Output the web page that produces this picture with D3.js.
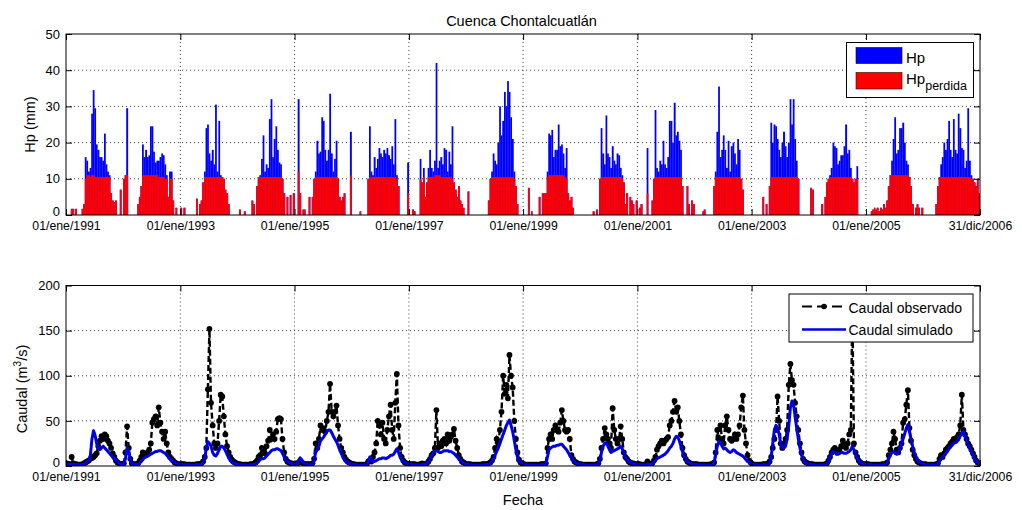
<!DOCTYPE html>
<html><head><meta charset="utf-8">
<script src="https://cdn.jsdelivr.net/npm/d3@7"></script>
<style>
body{margin:0;background:#fff;}
svg text{font-family:"Liberation Sans",Arial,Helvetica,sans-serif;fill:#000;}
</style></head><body>
<svg id="c" width="1022" height="510"></svg>
<script>
// ---- DATA (ten-day values, 36 per year) ----
const years = [1991,1992,1993,1994,1995,1996,1997,1998,1999,2000,2001,2002,2003,2004,2005,2006];

// Hp (mm)
const hp = [
0,0,0,1.7,1.7,0,1.7,0,0,0,1.7,3,16,15,12,13,28,34.5,29.5,19.5,18,16,16,15,22.5,14,12,11,6,4,3.5,4,0,0,7,0,
10,11,29.5,0,0,0,0,0,0,3,5,8,19.5,16,18,16,16.5,24.5,24.5,17.5,14.5,15,15,16,17,16.5,14,11,5,12,12,4,0,2,0,0,
2,0,2,0,0,0,0,0,0,0,4.5,0,3,4,9,12,24,25,17,15,18,14,30.5,12,26,11,10.5,10,7,6,3,0,0,0,0,0,
0,1.5,0,0,1,0,0,0,0,4,3,0,8,10.5,11,15.5,22,12,14,13,26.5,32,16,21,24.5,18,14.5,14,10,6,0,5,0,5.5,0,6,
0,0,32,6,0,1.5,1.5,0,0,5,0,5,10,12,20.5,17,17.5,27,26,18,15,18,33.5,17,12,15.5,20.5,10,5,4,5,6,0,0,0,23,
0,0,0,0,0,1,0,0,0,0,10,24.5,12,11,16,13,15.5,18.5,17,16,18,17,18.5,16.5,15.5,19,14,26.5,11,8,0,0,0,0,0,14.5,
0,0,1.5,1,0,0,0,15.5,9,13,5,9,13,18,13,12,15,42,13,15,16,14,18.5,18,12,17.5,14,24.5,9,7,5,8,4,3,2,0,
0,6.5,0,0,0,0,0,0,0,0,0,0,0,0,4,10,12,17,15,14,20,30,22,26,34,30,37,34,27,21,12,8,3,0,0,0,
0,0,0,7.5,0,1,0,0,0,0,5,0,6,6,6,12,22.5,22,23.5,16,18,18,25,19,19.5,17,13,18.5,6,4,5,2,0,0,0,0,
0,0,0,0,0,0,0,0,1,0,1.5,0,10,24,17,14,27.5,17,16,13,19,15,14,17,16.5,13,11,9,3,6,0,5,4,3,0,4,
0,2,3,0,0,0,18.5,0,0,4,10,29,13,12,15,14,20.5,14,13,16,26,26,20,31,22,23,20.5,18,8,0,0,8,3,0,4,3,
0,0,0,0,0,1,1.5,0,0,0,0,0,8,12,23,35.5,16,18,22,18,13,20.5,12,19,20,17,14,21,18,10,7,0,0,0,0,0,
0,0,0,0,0,0,0,5,0,3,0,8,25.5,20,25,24.5,21,18,16,20,23,19,16,20,32,25,32,21,15,10,0,0,0,0,0,0,
0,7.5,7,0,0,0,0,0,3,0,5,9,10,11,13,20,19,18.5,14,15,16.5,16.5,19,25,17,18,13,10,9,10,13.5,0,0,0,0,0,
0,0,0,1,1.5,2,1.5,2,1,2,1.5,3,2,4,8,11,15,21,27,17,18,24,24,25.5,20,15,14,10.5,8,3,0,2,3,2,0,2,
0,0,0,0,0,0,0,0,3,8,10.5,14,16,20,18,21,26,18,16,26.5,18,17,28,24,18.5,18,13,15,29.5,15,11,10,9,8,10,6
];

// Hp perdida (mm)
const hpLoss = [
0,0,0,1.7,1.7,0,1.7,0,0,0,1.7,3,10,11,11,10.5,11,11,10.5,10.5,10.5,10.5,10.5,10.5,10.5,10.5,10.5,10.5,6,4,3.5,4,0,0,7,0,
10,11,11,0,0,0,0,0,0,3,5,8,11,11,11,11,11,11,11,11,11,11,10.5,10.5,10.5,10.5,10,10,5,10,10,4,0,2,0,0,
2,0,2,0,0,0,0,0,0,0,4.5,0,3,4,9,10.5,10.5,10.5,10.5,10.5,10.5,10.5,10.5,10.5,10.5,10.5,10.5,10,7,6,3,0,0,0,0,0,
0,1.5,0,0,1,0,0,0,0,4,3,0,8,10.5,10.5,10.5,10.5,10.5,10.5,10.5,10.5,10.5,10.5,10.5,10.5,10.5,10.5,10.5,10,6,0,5,0,5.5,0,6,
0,0,12,6,0,1.5,1.5,0,0,5,0,5,10,10.5,10.5,10.5,10.5,10.5,10.5,10.5,10.5,10.5,10.5,10.5,10.5,10.5,10.5,10,5,4,5,6,0,0,0,11,
0,0,0,0,0,1,0,0,0,0,10,10.5,10.5,10.5,10.5,10.5,10.5,10.5,10.5,10.5,10.5,10.5,10.5,10.5,10.5,10.5,10.5,10.5,10,8,0,0,0,0,0,6,
0,0,1.5,1,0,0,0,10,9,10.5,5,9,10.5,10.5,10.5,10.5,11,11,11,11,10.5,10.5,10.5,10.5,10.5,10.5,10.5,10,9,7,5,8,4,3,2,0,
0,6.5,0,0,0,0,0,0,0,0,0,0,0,0,4,10,10.5,10.5,10.5,10.5,10.5,10.5,10.5,10.5,10.5,10.5,10.5,10.5,10.5,10.5,10,8,3,0,0,0,
0,0,0,7.5,0,1,0,0,0,0,5,0,6,6,6,10.5,11,11,11,11,11,11,11,11,11,11,10.5,10,6,4,5,2,0,0,0,0,
0,0,0,0,0,0,0,0,1,0,1.5,0,10,10.5,10.5,10.5,10.5,10.5,10.5,10.5,10.5,10.5,10.5,10.5,10.5,10.5,10,9,3,6,0,5,4,3,0,4,
0,2,3,0,0,0,6,0,0,4,10,10.5,10.5,10.5,10.5,10.5,10.5,10.5,10.5,10.5,10.5,10.5,10.5,10.5,10.5,10.5,10.5,10.5,8,0,0,8,3,0,4,3,
0,0,0,0,0,1,1.5,0,0,0,0,0,8,10.5,10.5,10.5,10.5,10.5,10.5,10.5,10.5,10.5,10.5,10.5,10.5,10.5,10.5,10.5,10.5,10,7,0,0,0,0,0,
0,0,0,0,0,0,0,5,0,3,0,8,10.5,10.5,10.5,10.5,10.5,10.5,10.5,10.5,10.5,10.5,10.5,10.5,10.5,10.5,10.5,10.5,10.5,10,0,0,0,0,0,0,
0,7.5,7,0,0,0,0,0,3,0,5,9,10,10.5,10.5,10.5,10.5,10.5,10.5,10.5,10.5,10.5,10.5,10.5,10.5,10.5,10.5,10,9,10,10,0,0,0,0,0,
0,0,0,1,1.5,2,1.5,2,1,2,1.5,3,2,4,8,11,11,11,11,11,11,11,11,11,11,11,11,10.5,8,3,0,2,3,2,0,2,
0,0,0,0,0,0,0,0,3,8,10.5,10.5,10.5,10.5,10.5,10.5,10.5,10.5,10.5,10.5,10.5,10.5,10.5,10.5,10.5,10.5,10.5,10.5,10.5,10.5,10,10,9,8,10,6
];

// Caudal observado (m3/s)
const qObs = [
3,2,2,10,3,2,2,1.5,1.5,1.5,2,3,4,5,6,8,9,10,12,14,22,28,33,30,35,33,28,25,20,14,10,6,4,3,2,2,
3,15,44,20,8,3,2,2,2,3,6,10,15,14,12,15,18,25,48,52,55,45,65,48,38,30,38,25,15,10,8,6,4,3,2,2,
2,2,2,1.5,1.5,1.5,1.5,1.5,1.5,1.5,2,2,2,3,5,10,20,85,152,70,45,25,20,25,50,79,77,55,35,22,15,10,7,5,4,3,
2,2,1.5,1.5,1.5,1.5,1.5,1.5,2,2,3,4,6,10,12,20,18,14,22,28,40,30,35,30,38,52,53,52,30,15,8,5,4,3,3,2,
2,2,4,5,4,3,2,2,2,2,2,3,8,25,20,30,45,40,42,38,50,60,91,60,55,60,67,45,30,20,15,10,7,5,4,3,
2,2,1.5,1.5,1.5,1.5,1.5,1.5,1.5,2,5,6,5,10,15,25,50,45,35,48,30,25,40,55,68,40,30,70,102,45,20,10,6,4,3,2,
2,2,2,2,1.5,1.5,1.5,2,3,2,2,3,5,8,12,14,20,62,20,25,22,28,30,25,35,28,32,35,41,28,20,12,8,5,4,3,
2,2,2,1.5,1.5,1.5,1.5,1.5,1.5,1.5,2,2,2,2,3,4,6,10,20,30,25,40,60,100,80,90,75,123,100,87,50,30,15,7,4,3,
2,1.5,1.5,1.5,1.5,1.5,1.5,1.5,1.5,1.5,1.5,2,2,2,3,20,30,35,30,40,45,40,38,48,62,50,40,38,40,30,12,8,5,4,3,2,
2,1.5,1.5,1.5,1.5,1.5,1.5,1.5,1.5,1.5,2,3,8,20,30,42,35,30,25,20,64,40,30,25,30,44,30,15,10,8,5,4,3,3,2,2,
2,2,1.5,1.5,1.5,2,5,3,2,3,6,10,18,22,25,28,25,28,30,32,45,50,60,72,60,65,50,35,20,12,8,5,4,3,2,2,
2,2,1.5,1.5,1.5,1.5,1.5,1.5,1.5,1.5,2,2,4,15,40,30,45,30,25,45,55,40,30,28,30,35,30,35,45,65,78,40,25,12,6,4,
2,1.5,1.5,1.5,1.5,1.5,1.5,2,2,2,3,5,10,20,30,40,77,50,25,20,25,30,40,90,113,95,90,70,55,40,25,15,8,5,4,3,
2,2,2,1.5,1.5,1.5,1.5,1.5,1.5,1.5,2,3,6,10,15,18,20,16,15,18,22,28,22,20,25,35,40,175,25,15,10,6,4,3,2,2,
2,2,1.5,1.5,1.5,1.5,1.5,1.5,1.5,1.5,2,2,2,4,12,18,25,38,30,18,15,20,25,48,52,68,84,42,28,18,12,8,5,4,3,2,
2,2,1.5,1.5,1.5,1.5,1.5,1.5,2,3,8,12,10,14,18,20,22,25,27,30,28,32,35,45,79,40,35,30,25,22,18,14,10,6,4,3
];

// Caudal simulado (m3/s)
const qSim = [
2,2,2,2,2,1.5,1.5,1.5,1.5,1.5,1.5,2,3,5,6,12,30,39,34,25,20,18,20,22,20,18,16,14,12,10,8,6,5,3,2,2,
2,8,20,15,8,3,2,1.5,1.5,2,3,5,7,9,10,11,12,13,14,15,16,16,17,17,16,15,14,12,10,8,6,5,4,3,2,2,
2,1.5,1.5,1.5,1.5,1,1,1,1,1,1.5,1.5,1.5,2,3,8,20,27,25,22,15,12,11,14,18,22,22,20,17,13,9,6,4,3,2.5,2,
2,1.5,1.5,1.5,1,1,1,1,1,1.5,2,2,3,5,7,8,8,9,11,13,15,17,18,18,19,19,18,17,14,10,7,5,4,3,2.5,2,
2,2,6,9,7,4,3,2,2,1.5,1.5,2,6,15,18,22,28,30,32,35,38,40,40,37,33,30,27,23,18,14,10,7,5,4,3,2.5,
2,1.5,1.5,1.5,1,1,1,1,1,1.5,4,10,7,5,5,6,7,8,8,9,9,8,9,10,12,12,13,16,19,15,10,7,5,4,3,2.5,
2,2,1.5,1.5,1.5,1,1,1.5,2,2,2,2,4,8,12,14,16,17,16,15,15,16,17,17,17,16,16,15,14,12,10,8,6,4,3,2,
2,2,1.5,1.5,1,1,1,1,1,1,1,1.5,1.5,1.5,2,3,5,8,12,16,20,25,30,35,40,45,48,51,45,38,28,18,10,6,4,3,
2,1.5,1.5,1.5,1,1,1,1,1,1,1,1.5,1.5,1.5,2,10,18,20,21,22,22,23,23,24,24,22,20,18,15,12,9,6,4,3,2.5,2,
2,1.5,1.5,1,1,1,1,1,1,1,1,1.5,5,15,22,25,26,22,18,15,16,17,18,19,20,22,19,14,10,7,5,4,3,2.5,2,2,
2,1.5,1.5,1.5,1,1,2,2,2,2.5,4,6,8,9,10,11,12,13,15,17,20,22,25,30,33,32,28,22,16,11,7,5,4,3,2,2,
2,1.5,1.5,1.5,1,1,1,1,1,1,1,1.5,3,12,22,27,26,22,19,20,18,16,15,16,18,17,15,14,13,12,11,9,7,5,4,3,
2,1.5,1.5,1.5,1,1,1,1,1,1.5,2,4,10,25,40,45,42,35,25,20,20,22,30,45,65,72,68,55,42,30,20,12,8,5,3.5,2.5,
2,2,1.5,1.5,1,1,1,1,1,1,1.5,2,5,10,14,16,15,13,13,14,15,15,14,14,15,16,18,22,18,13,9,6,4,3,2.5,2,
2,1.5,1.5,1.5,1,1,1,1,1,1,1,1,1.5,3,8,12,15,16,14,13,15,20,25,30,36,42,46,38,30,22,15,10,7,5,3.5,2.5,
2,1.5,1.5,1.5,1,1,1,1,1,2,5,8,10,12,14,16,19,21,23,25,26,27,29,33,37,38,33,28,24,20,16,12,8,5,3.5,2.5
];

const xTickDates  = ["1991-01-01","1993-01-01","1995-01-01","1997-01-01","1999-01-01","2001-01-01","2003-01-01","2005-01-01","2006-12-31"];
const xTickLabels = ["01/ene/1991","01/ene/1993","01/ene/1995","01/ene/1997","01/ene/1999","01/ene/2001","01/ene/2003","01/ene/2005","31/dic/2006"];
const hpTicks = [0,10,20,30,40,50];
const qTicks  = [0,50,100,150,200];

// ---- CHART ----
const svg = d3.select("#c");
const parse = d3.timeParse("%Y-%m-%d");
const X0 = 66, X1 = 980;
const P1 = {top:34, bot:215}, P2 = {top:285.5, bot:466};
const x = d3.scaleTime().domain([parse(xTickDates[0]), parse(xTickDates[xTickDates.length-1])]).range([X0, X1]);
const yT = d3.scaleLinear().domain([0,50]).range([P1.bot, P1.top]);
const yB = d3.scaleLinear().domain([0,200]).range([P2.bot, P2.top]);
const xDates = xTickDates.map(parse);

const rows = [];
years.forEach((yr,k)=>{
  for(let i=0;i<36;i++){
    const j=k*36+i;
    const s=new Date(yr,Math.floor(i/3),1+10*(i%3));
    const e= i<35 ? new Date(yr,Math.floor((i+1)/3),1+10*((i+1)%3)) : new Date(yr+1,0,1);
    rows.push({s,e,m:new Date((+s + +e)/2),hp:hp[j],loss:hpLoss[j],obs:qObs[j],sim:qSim[j]});
  }
});

const defs = svg.append("defs");
function clip(id,p){defs.append("clipPath").attr("id",id).append("rect").attr("x",X0).attr("y",p.top-3).attr("width",X1-X0).attr("height",p.bot-p.top+3);}
clip("c1",P1); clip("c2",P2);

function frame(p, y, gridVals){
  const g = svg.append("g");
  g.append("rect").attr("x",X0).attr("y",p.top).attr("width",X1-X0).attr("height",p.bot-p.top).attr("fill","#fff");
  const gr = g.append("g").attr("stroke","#222").attr("stroke-width",0.9).attr("stroke-dasharray","1,3");
  gridVals.forEach(v=>gr.append("line").attr("x1",X0).attr("x2",X1).attr("y1",y(v)).attr("y2",y(v)));
  xDates.slice(1,-1).forEach(d=>gr.append("line").attr("x1",x(d)).attr("x2",x(d)).attr("y1",p.top).attr("y2",p.bot));
  return g;
}
function axes(p, y, ticks){
  const g = svg.append("g");
  const clean = s => { s.select(".domain").remove(); s.attr("font-family",null).attr("font-size",null); };
  g.append("g").attr("transform",`translate(0,${p.bot})`)
   .call(d3.axisBottom(x).tickValues(xDates).tickFormat((d,i)=>xTickLabels[i]).tickSize(-6).tickSizeOuter(0).tickPadding(6))
   .call(clean).selectAll("text").style("font-size","12.3px");
  g.append("g").attr("transform",`translate(0,${p.top})`)
   .call(d3.axisTop(x).tickValues(xDates).tickFormat("").tickSize(-6).tickSizeOuter(0)).call(clean);
  g.append("g").attr("transform",`translate(${X0},0)`)
   .call(d3.axisLeft(y).tickValues(ticks).tickSize(-6).tickSizeOuter(0).tickPadding(6))
   .call(clean).selectAll("text").style("font-size","13px")
   .attr("dy",(d,i)=> i===0 ? "0.03em" : "0.32em");
  g.append("g").attr("transform",`translate(${X1},0)`)
   .call(d3.axisRight(y).tickValues(ticks).tickFormat("").tickSize(-6).tickSizeOuter(0)).call(clean);
  g.selectAll(".tick line").attr("stroke","#000");
  g.append("rect").attr("x",X0).attr("y",p.top).attr("width",X1-X0).attr("height",p.bot-p.top)
   .attr("fill","none").attr("stroke","#000").attr("stroke-width",1);
}

// Top panel
frame(P1, yT, [10,20,30,40]);
const bars = svg.append("g").attr("clip-path","url(#c1)");
bars.selectAll("rect.hp").data(rows.filter(r=>r.hp>0)).join("rect")
  .attr("x",d=>x(d.s)).attr("width",d=>Math.max(0.6,x(d.e)-x(d.s)+0.2))
  .attr("y",d=>yT(d.hp)).attr("height",d=>yT(0)-yT(d.hp)).attr("fill","#0000ff");
bars.selectAll("rect.loss").data(rows.filter(r=>r.loss>0)).join("rect")
  .attr("x",d=>x(d.s)).attr("width",d=>Math.max(0.6,x(d.e)-x(d.s)+0.2))
  .attr("y",d=>yT(d.loss)).attr("height",d=>yT(0)-yT(d.loss)).attr("fill","#ff0000");
axes(P1, yT, hpTicks);

// Bottom panel
frame(P2, yB, [50,100,150]);
const lines = svg.append("g").attr("clip-path","url(#c2)");
lines.append("path").datum(rows)
  .attr("d",d3.line().x(d=>x(d.m)).y(d=>yB(d.obs)))
  .attr("fill","none").attr("stroke","#000").attr("stroke-width",2.4).attr("stroke-dasharray","6,3");
lines.selectAll("circle").data(rows).join("circle")
  .attr("cx",d=>x(d.m)).attr("cy",d=>yB(d.obs)).attr("r",2.9).attr("fill","#000");
lines.append("path").datum(rows)
  .attr("d",d3.line().x(d=>x(d.m)).y(d=>yB(d.sim)))
  .attr("fill","none").attr("stroke","#0000e6").attr("stroke-width",3).attr("stroke-linejoin","round");
axes(P2, yB, qTicks);

// Labels
svg.append("text").attr("x",521.5).attr("y",25.5).attr("text-anchor","middle").style("font-size","14.5px").text("Cuenca Chontalcuatlán");
svg.append("text").attr("transform","translate(35,124.5) rotate(-90)").attr("text-anchor","middle").style("font-size","14.5px").text("Hp (mm)");
const cl = svg.append("text").attr("transform","translate(27,389) rotate(-90)").attr("text-anchor","middle").style("font-size","14.5px");
cl.append("tspan").text("Caudal (m");
cl.append("tspan").attr("dy",-6).style("font-size","10px").text("3");
cl.append("tspan").attr("dy",6).text("/s)");
svg.append("text").attr("x",523).attr("y",504.5).attr("text-anchor","middle").style("font-size","14.5px").text("Fecha");

// Legend top
const lg1 = svg.append("g");
lg1.append("rect").attr("x",846.5).attr("y",42.5).attr("width",127).attr("height",55).attr("fill","#fff").attr("stroke","#000");
lg1.append("rect").attr("x",856).attr("y",47.5).attr("width",46).attr("height",16).attr("fill","#0000ff").attr("stroke","#000033").attr("stroke-width",0.6);
lg1.append("rect").attr("x",856).attr("y",72.5).attr("width",46).attr("height",16.5).attr("fill","#ff0000").attr("stroke","#330000").attr("stroke-width",0.6);
lg1.append("text").attr("x",906).attr("y",62.5).style("font-size","15px").text("Hp");
const t2 = lg1.append("text").attr("x",906).attr("y",83.5).style("font-size","15px");
t2.append("tspan").text("Hp");
t2.append("tspan").attr("dy",6).style("font-size","12.5px").text("perdida");

// Legend bottom
const lg2 = svg.append("g");
lg2.append("rect").attr("x",789).attr("y",294).attr("width",184).attr("height",48).attr("fill","#fff").attr("stroke","#000");
lg2.append("line").attr("x1",802).attr("x2",846).attr("y1",306.5).attr("y2",306.5).attr("stroke","#000").attr("stroke-width",2.2).attr("stroke-dasharray","10,5");
lg2.append("circle").attr("cx",824).attr("cy",306.5).attr("r",2.8).attr("fill","#000");
lg2.append("line").attr("x1",802).attr("x2",846).attr("y1",329.5).attr("y2",329.5).attr("stroke","#0000e6").attr("stroke-width",2.6);
lg2.append("text").attr("x",848.5).attr("y",312.5).style("font-size","14px").text("Caudal observado");
lg2.append("text").attr("x",848.5).attr("y",335).style("font-size","14px").text("Caudal simulado");
</script>
</body></html>
